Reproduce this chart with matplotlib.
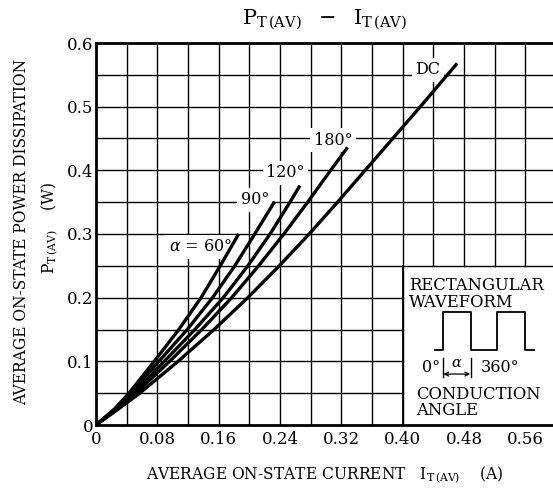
import matplotlib
matplotlib.use("Agg")
import matplotlib.pyplot as plt

plt.rcParams['font.family'] = ['DejaVu Serif']
plt.rcParams['mathtext.fontset'] = 'dejavuserif'

# values (I_T(AV) in A, P_T(AV) in W)
p_60 = [0, 0.025, 0.05, 0.10, 0.15, 0.20, 0.25, 0.30]
i_60 = [0, 0.024, 0.043, 0.076, 0.108, 0.137, 0.162, 0.186]

p_90 = [0, 0.025, 0.05, 0.10, 0.15, 0.20, 0.25, 0.30, 0.351]
i_90 = [0, 0.025, 0.046, 0.082, 0.119, 0.152, 0.181, 0.207, 0.233]

p_120 = [0, 0.025, 0.05, 0.10, 0.15, 0.20, 0.25, 0.30, 0.35, 0.376]
i_120 = [0, 0.026, 0.049, 0.089, 0.129, 0.166, 0.198, 0.227, 0.253, 0.266]

p_180 = [0, 0.025, 0.05, 0.10, 0.15, 0.20, 0.25, 0.30, 0.35, 0.40, 0.436]
i_180 = [0, 0.027, 0.052, 0.096, 0.138, 0.177, 0.212, 0.245, 0.276, 0.306, 0.328]

p_dc = [0, 0.025, 0.05, 0.10, 0.15, 0.20, 0.25, 0.30, 0.35, 0.40, 0.45, 0.50, 0.568]
i_dc = [0, 0.029, 0.057, 0.107, 0.154, 0.198, 0.239, 0.278, 0.315, 0.351, 0.387, 0.423, 0.471]

curves = [(i_60, p_60), (i_90, p_90), (i_120, p_120), (i_180, p_180), (i_dc, p_dc)]

x_ticks = [0, 0.08, 0.16, 0.24, 0.32, 0.40, 0.48, 0.56]
x_ticklabels = ['0', '0.08', '0.16', '0.24', '0.32', '0.40', '0.48', '0.56']
y_ticks = [0, 0.1, 0.2, 0.3, 0.4, 0.5, 0.6]
y_ticklabels = ['0', '0.1', '0.2', '0.3', '0.4', '0.5', '0.6']

# little rectangular waveform sketch in the inset
wave_x = [0.442, 0.452, 0.452, 0.489, 0.489, 0.523, 0.523, 0.559, 0.559, 0.571]
wave_y = [0.118, 0.118, 0.177, 0.177, 0.118, 0.118, 0.177, 0.177, 0.118, 0.118]

XMAX = 0.596

fig = plt.figure(figsize=(5.53, 4.9), dpi=100)
ax = fig.add_axes([96/553, 65/490, 1 - 96/553, 382/490])

ax.set_xlim(0, XMAX)
ax.set_ylim(0, 0.6)

# grid (cut out where the inset sits)
for gx in [0.04*k for k in range(1, 15)]:
    if gx > 0.401:
        ax.plot([gx, gx], [0.25, 0.6], color='black', lw=1.0, zorder=1)
    else:
        ax.plot([gx, gx], [0, 0.6], color='black', lw=1.0, zorder=1)
for gy in [0.05*k for k in range(1, 12)]:
    if gy < 0.249:
        ax.plot([0, 0.40], [gy, gy], color='black', lw=1.0, zorder=1)
    else:
        ax.plot([0, XMAX], [gy, gy], color='black', lw=1.0, zorder=1)
ax.plot([0.40, 0.40], [0, 0.25], color='black', lw=1.3, zorder=1)

for xs, ys in curves:
    ax.plot(xs, ys, color='black', lw=2.4, solid_capstyle='butt',
            solid_joinstyle='round', zorder=3)

lab_box = dict(facecolor='white', edgecolor='none', pad=2.5)
ax.text(0.433, 0.558, 'DC', fontsize=11.5, ha='center', va='center', bbox=lab_box, zorder=2)
ax.text(0.309, 0.447, '180°', fontsize=11.5, ha='center', va='center', bbox=lab_box, zorder=2)
ax.text(0.247, 0.396, '120°', fontsize=11.5, ha='center', va='center', bbox=lab_box, zorder=2)
ax.text(0.207, 0.354, '90°', fontsize=11.5, ha='center', va='center', bbox=lab_box, zorder=2)
ax.text(0.136, 0.280, r'$\alpha$ = 60°', fontsize=11.5, ha='center', va='center', bbox=lab_box, zorder=2)

# inset
ax.text(0.408, 0.232, 'RECTANGULAR\nWAVEFORM', fontsize=11.8, ha='left', va='top',
        linespacing=0.95, zorder=4)
ax.plot(wave_x, wave_y, color='black', lw=1.3, zorder=4)
ax.plot([0.452, 0.452], [0.075, 0.105], color='black', lw=1.0, zorder=4)
ax.plot([0.489, 0.489], [0.075, 0.105], color='black', lw=1.0, zorder=4)
ax.annotate('', xy=(0.453, 0.080), xytext=(0.488, 0.080),
            arrowprops=dict(arrowstyle='<->', lw=0.9, color='black',
                            shrinkA=0, shrinkB=0, mutation_scale=7), zorder=4)
ax.text(0.470, 0.097, r'$\alpha$', fontsize=10.5, ha='center', va='center', zorder=4)
ax.text(0.449, 0.090, '0°', fontsize=11.5, ha='right', va='center', zorder=4)
ax.text(0.527, 0.090, '360°', fontsize=11.5, ha='center', va='center', zorder=4)
ax.text(0.417, 0.062, 'CONDUCTION\nANGLE', fontsize=11.8, ha='left', va='top',
        linespacing=0.95, zorder=4)

ax.set_xticks(x_ticks)
ax.set_xticklabels(x_ticklabels)
ax.set_yticks(y_ticks)
ax.set_yticklabels(y_ticklabels)
ax.tick_params(length=0, labelsize=12, pad=4)
ax.tick_params(axis='y', pad=2)

for s in ['left', 'bottom', 'top']:
    ax.spines[s].set_linewidth(2.0)
ax.spines['right'].set_visible(False)

fig.text(325/553, 1 - 20/490, r'$\mathrm{P_{T\,(AV)}\ \ -\ \ I_{T\,(AV)}}$', fontsize=15,
         ha='center', va='center')
fig.text(22/553, 1 - 232/490, 'AVERAGE ON-STATE POWER DISSIPATION', fontsize=11.2,
         rotation=90, ha='center', va='center')
fig.text(50/553, 1 - 228/490, r'$\mathrm{P_{T\,(AV)}}$    (W)', fontsize=11.2,
         rotation=90, ha='center', va='center')
fig.text(325/553, 1 - 475/490, r'AVERAGE ON-STATE CURRENT   $\mathrm{I_{T\,(AV)}}$    (A)',
         fontsize=11.2, ha='center', va='center')

fig.savefig('out.png', dpi=100)
